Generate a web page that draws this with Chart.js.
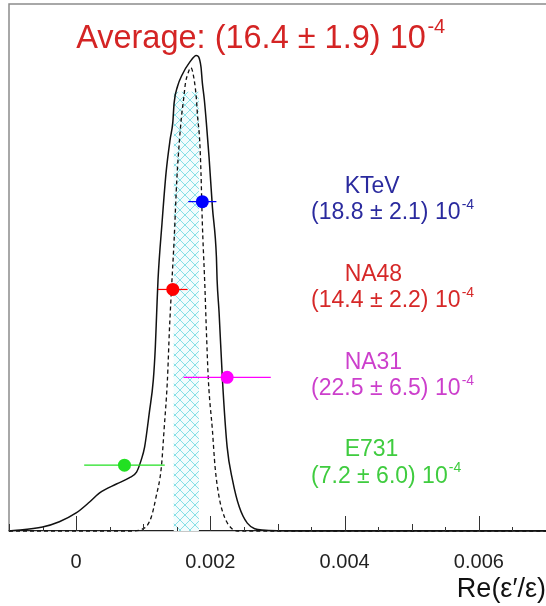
<!DOCTYPE html>
<html>
<head>
<meta charset="utf-8">
<script src="https://cdn.jsdelivr.net/npm/chart.js@4.4.1/dist/chart.umd.min.js"></script>
<style>
html, body { margin: 0; padding: 0; background: #fff; }
#wrap { width: 546px; height: 606px; overflow: hidden; }
canvas { display: block; }
</style>
</head>
<body>
<div id="wrap"><canvas id="chartEps" width="546" height="606"></canvas></div>
<script>
// measurements, values in units of 1e-4
var experiments = ['KTeV', 'NA48', 'NA31', 'E731'];
var central = [18.8, 14.4, 22.5, 7.2];
var errors = [2.1, 2.2, 6.5, 6.0];
var rowY = [7.5, 5.5, 3.5, 1.5];
var pointColors = ['#0000ff', '#ff0000', '#ff00ff', '#22e022'];
var textColors = ['#2a2a9e', '#d62828', '#cc3fcc', '#3fcc3f'];

var average = 16.4;
var averageError = 1.9;
var bandTop = 10.0;

// combined likelihood (solid) and gaussian of the average (dashed)
var solidX = [-0.00100, -0.00050, -0.00025, 0.00000, 0.00020, 0.00035, 0.00060, 0.00079, 0.00090, 0.00097,
	0.00102, 0.00109, 0.00115, 0.00118, 0.00120, 0.00122, 0.00128, 0.00134, 0.00140, 0.00144,
	0.00146, 0.00151, 0.00158, 0.00169, 0.00179, 0.00186, 0.00188, 0.00191, 0.00194, 0.00198,
	0.00203, 0.00209, 0.00210, 0.00213, 0.00218, 0.00225, 0.00233, 0.00243, 0.00255, 0.00277,
	0.00330, 0.00700];
var solidY = [0, 0.09, 0.21, 0.41, 0.66, 0.87, 1.07, 1.21, 1.34, 1.62,
	1.91, 2.69, 3.44, 4.19, 4.97, 5.72, 7.02, 8.16, 8.91, 9.30,
	9.75, 10.12, 10.39, 10.67, 10.83, 10.57, 10.21, 9.82, 9.30, 8.52,
	7.38, 6.24, 5.72, 4.97, 3.44, 1.91, 1.16, 0.55, 0.18, 0.02,
	0, 0];

var dashedX = [-0.00100, 0.00080, 0.00102, 0.00112, 0.00119, 0.00127, 0.00131, 0.00136, 0.00139, 0.00142,
	0.00146, 0.00150, 0.00154, 0.00157, 0.00160, 0.00163, 0.00166, 0.00171, 0.00176, 0.00179,
	0.00181, 0.00184, 0.00186, 0.00188, 0.00191, 0.00192, 0.00194, 0.00197, 0.00203, 0.00207,
	0.00213, 0.00221, 0.00231, 0.00243, 0.00700];
var dashedY = [0, 0, 0.07, 0.32, 0.77, 1.46, 2.30, 3.44, 4.58, 5.49,
	6.63, 8.00, 8.91, 9.44, 9.82, 10.21, 10.39, 10.55, 10.26, 9.87,
	9.43, 8.91, 8.16, 7.02, 5.88, 5.49, 4.58, 3.44, 2.30, 1.46,
	0.77, 0.32, 0.07, 0, 0];

var tickMin = -0.001, tickMax = 0.007, tickStep = 0.0005;

var FONT = '"Liberation Sans", Arial, Helvetica, sans-serif';

function zip(xs, ys) {
	return xs.map(function (x, i) { return {x: x, y: ys[i]}; });
}

// cross hatch for the average band
function hatch() {
	var c = document.createElement('canvas');
	c.width = 10; c.height = 10;
	var g = c.getContext('2d');
	g.fillStyle = '#f2fcfd';
	g.fillRect(0, 0, 10, 10);
	g.strokeStyle = '#86dfe6';
	g.lineWidth = 1;
	g.beginPath();
	g.moveTo(0, 0); g.lineTo(10, 10);
	g.moveTo(10, 0); g.lineTo(0, 10);
	g.stroke();
	return g.createPattern(c, 'repeat');
}

var lo = (average - averageError) * 1e-4;
var hi = (average + averageError) * 1e-4;

var datasets = [];

experiments.forEach(function (name, i) {
	datasets.push({
		label: name,
		data: [{x: central[i] * 1e-4, y: rowY[i]}],
		pointRadius: 6.5,
		pointBackgroundColor: pointColors[i],
		pointBorderColor: pointColors[i],
		pointBorderWidth: 0,
		showLine: false,
		order: 0
	});
	datasets.push({
		data: [{x: (central[i] - errors[i]) * 1e-4, y: rowY[i]}, {x: (central[i] + errors[i]) * 1e-4, y: rowY[i]}],
		showLine: true,
		borderColor: pointColors[i],
		borderWidth: 1.2,
		pointRadius: 0,
		order: 1
	});
});

datasets.push({
	data: zip(solidX, solidY),
	showLine: true,
	borderColor: '#111',
	borderWidth: 1.5,
	pointRadius: 0,
	cubicInterpolationMode: 'monotone',
	clip: false,
	order: 2
});
datasets.push({
	data: zip(dashedX, dashedY),
	showLine: true,
	borderColor: '#111',
	borderWidth: 1.3,
	borderDash: [4, 3],
	pointRadius: 0,
	cubicInterpolationMode: 'monotone',
	clip: false,
	order: 3
});
datasets.push({
	data: [{x: lo, y: 0}, {x: lo, y: bandTop}, {x: hi, y: bandTop}, {x: hi, y: 0}],
	showLine: true,
	borderWidth: 0,
	borderColor: 'rgba(0,0,0,0)',
	backgroundColor: hatch(),
	fill: 'origin',
	pointRadius: 0,
	order: 4
});

function supText(ctx, x, y, base, sup, size, color) {
	ctx.fillStyle = color;
	ctx.textAlign = 'left';
	ctx.textBaseline = 'alphabetic';
	ctx.font = size + 'px ' + FONT;
	ctx.fillText(base, x, y);
	var w = ctx.measureText(base).width;
	ctx.font = Math.round(size * 0.62) + 'px ' + FONT;
	ctx.fillText(sup, x + w + size * 0.05, y - size * 0.45);
}

var decor = {
	id: 'decor',
	afterDatasetsDraw: function (chart) {
		var ctx = chart.ctx, a = chart.chartArea;
		var xs = chart.scales.x, ys = chart.scales.y;
		ctx.save();
		// frame
		ctx.strokeStyle = '#8c8c8c';
		ctx.lineWidth = 1.5;
		ctx.beginPath();
		ctx.moveTo(a.left, a.bottom);
		ctx.lineTo(a.left, a.top);
		ctx.lineTo(a.right, a.top);
		ctx.stroke();
		// inward ticks
		ctx.strokeStyle = '#333';
		ctx.lineWidth = 1;
		xs.ticks.forEach(function (t) {
			var n = Math.round(t.value * 1e4);
			var len = n % 20 === 0 ? 15 : (n % 10 === 0 ? 7 : 4);
			var px = Math.round(xs.getPixelForValue(t.value)) + 0.5;
			ctx.beginPath();
			ctx.moveTo(px, a.bottom);
			ctx.lineTo(px, a.bottom - len);
			ctx.stroke();
		});
		// average
		supText(ctx, xs.getPixelForValue(0), ys.getPixelForValue(11.0),
			'Average: (' + average.toFixed(1) + ' \u00b1 ' + averageError.toFixed(1) + ') 10', '-4', 32.5, '#d42424');
		// experiment labels
		experiments.forEach(function (name, i) {
			ctx.fillStyle = textColors[i];
			ctx.font = '23px ' + FONT;
			ctx.textAlign = 'left';
			ctx.textBaseline = 'alphabetic';
			ctx.fillText(name, xs.getPixelForValue(0.004), ys.getPixelForValue(rowY[i] + 0.2));
			supText(ctx, xs.getPixelForValue(0.0035), ys.getPixelForValue(rowY[i] - 0.4),
				'(' + central[i].toFixed(1) + ' \u00b1 ' + errors[i].toFixed(1) + ') 10', '-4', 23, textColors[i]);
		});
		ctx.restore();
	}
};

var chartEps = new Chart(document.getElementById('chartEps'), {
	type: 'scatter',
	data: {datasets: datasets},
	options: {
		responsive: false,
		animation: false,
		layout: {autoPadding: false, padding: {left: 9, top: 4, right: 0, bottom: 0}},
		plugins: {legend: {display: false}, tooltip: {enabled: false}},
		scales: {
			x: {
				type: 'linear',
				min: tickMin,
				max: tickMax,
				afterFit: function (s) {
					s.height = 75;
					s.paddingLeft = 0;
					s.paddingRight = 0;
				},
				grid: {display: false, drawTicks: false},
				border: {display: true, color: '#222', width: 1.2},
				ticks: {
					stepSize: tickStep,
					autoSkip: false,
					maxRotation: 0,
					padding: 19,
					color: '#222',
					font: {size: 20, family: FONT},
					callback: function (v) {
						var n = Math.round(v * 1e4);
						if (n % 20 !== 0) return '';
						return n === 0 ? '0' : v.toFixed(3);
					}
				},
				title: {
					display: true,
					text: 'Re(\u03b5\u2032/\u03b5)',
					align: 'end',
					color: '#111',
					font: {size: 27, family: FONT},
					padding: {top: 0, bottom: 0}
				}
			},
			y: {
				type: 'linear',
				min: 0,
				max: 12,
				display: false
			}
		}
	},
	plugins: [decor]
});
</script>
</body>
</html>
